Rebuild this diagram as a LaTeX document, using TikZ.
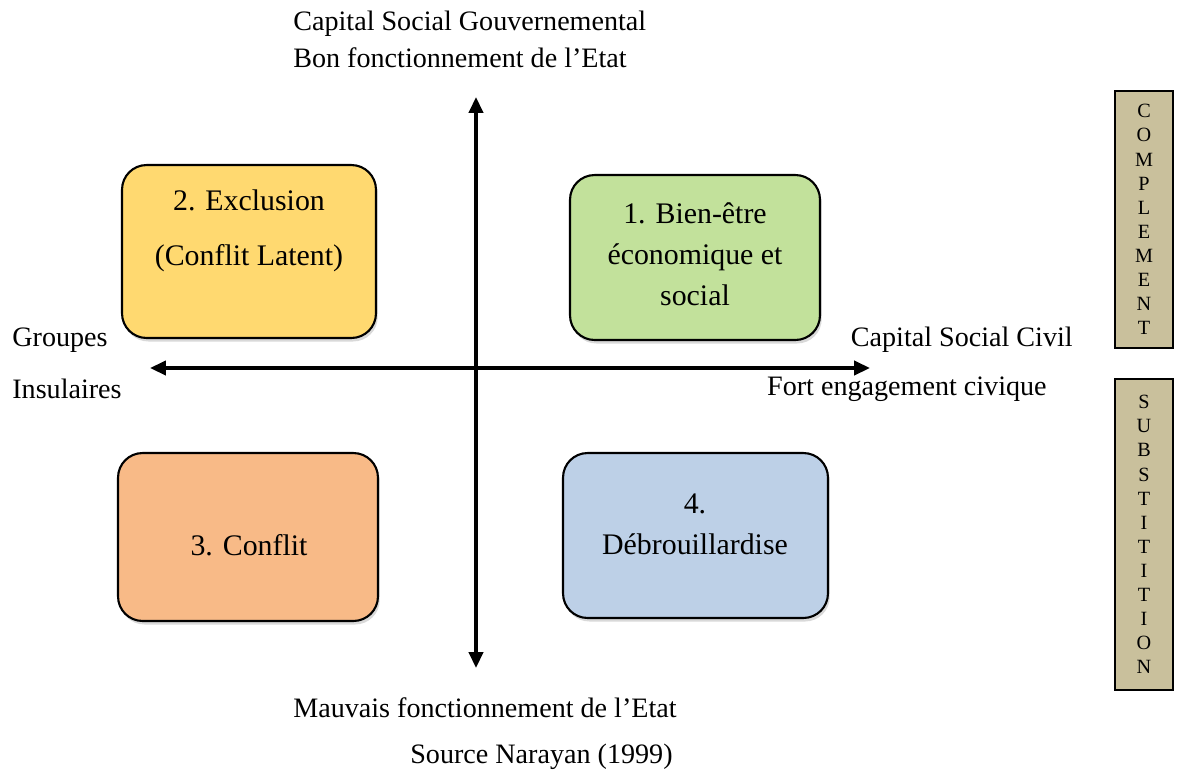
\documentclass[tikz,border=0pt]{standalone}
\usepackage{fontspec}
\setmainfont{Liberation Serif}
\usetikzlibrary{arrows.meta,positioning,shadows}
\definecolor{BoxYellow}{HTML}{FFD970}
\definecolor{BoxGreen}{HTML}{C2E19B}
\definecolor{BoxOrange}{HTML}{F8BA87}
\definecolor{BoxBlue}{HTML}{BDD0E7}
\definecolor{Khaki}{HTML}{C9C09C}

\begin{document}
\begin{tikzpicture}[x=0.02cm,y=-0.02cm,
  quad/.style={draw,line width=1.2pt,rounded corners=14pt,inner sep=0pt,
    drop shadow={opacity=0.3,shadow xshift=1pt,shadow yshift=-2pt}},
  quadtxt/.style={align=center,inner sep=0pt,font=\fontsize{17}{23.3}\selectfont},
  axis/.style={line width=1.9pt,{Triangle[length=9pt,width=8pt]}-{Triangle[length=9pt,width=8pt]}},
  lab/.style={inner sep=0pt,font=\fontsize{16}{19.3}\selectfont},
  sidebox/.style={draw,line width=1.3pt,fill=Khaki,inner sep=0pt,align=center,
    font=\fontsize{11.5}{13.7}\selectfont}]
  \useasboundingbox (0,0) rectangle (1177,769);

  % quadrants
  \node[quad,fill=BoxYellow,minimum width=5.08cm,minimum height=3.46cm] (excl) at (249,251.5) {};
  \node[quad,fill=BoxGreen,minimum width=5.0cm,minimum height=3.3cm] (bien) at (695,257.5) {};
  \node[quad,fill=BoxOrange,minimum width=5.2cm,minimum height=3.36cm] (confl) at (248,537) {};
  \node[quad,fill=BoxBlue,minimum width=5.3cm,minimum height=3.3cm] (debr) at (695.5,535.5) {};

  \node[quadtxt] (exclt) at (249,231) {2. Exclusion\\[8pt](Conflit Latent)};
  \node[quadtxt] (bient) at (695,254) {1. Bien-être\\économique et\\social};
  \node[quadtxt] (conflt) at (249,545) {3. Conflit};
  \node[quadtxt] (debrt) at (695,524) {4.\\Débrouillardise};

  % axes
  \coordinate (top) at (476,97);
  \coordinate (bot) at (476,668);
  \coordinate (west) at (150,368);
  \coordinate (east) at (870,368);
  \draw[axis] (bot) -- (top);
  \draw[axis] (west) -- (east);

  % axis labels
  \node[lab,anchor=west] (gouv) at (293,24) {Capital Social Gouvernemental};
  \node[lab,anchor=west] (bon) at (293,58) {Bon fonctionnement de l’Etat};
  \node[lab,anchor=west] (grp) at (12,340) {Groupes};
  \node[lab,anchor=west] (ins) at (12,389) {Insulaires};
  \node[lab,anchor=east] (civ) at (1073,340) {Capital Social Civil};
  \node[lab,anchor=east] (fort) at (1047,389) {Fort engagement civique};
  \node[lab,anchor=west] (mauv) at (293,708) {Mauvais fonctionnement de l’Etat};
  \node[lab,anchor=west] (src) at (410,757) {Source Narayan (1999)};

  % side boxes
  \node[sidebox,minimum width=1.16cm,minimum height=5.14cm] (compl) at (1144,219.5)
    {C\\O\\M\\P\\L\\E\\M\\E\\N\\T};
  \node[sidebox,minimum width=1.16cm,minimum height=6.22cm] (subst) at (1144,534.5)
    {S\\U\\B\\S\\T\\I\\T\\I\\T\\I\\O\\N};
\end{tikzpicture}
\end{document}
